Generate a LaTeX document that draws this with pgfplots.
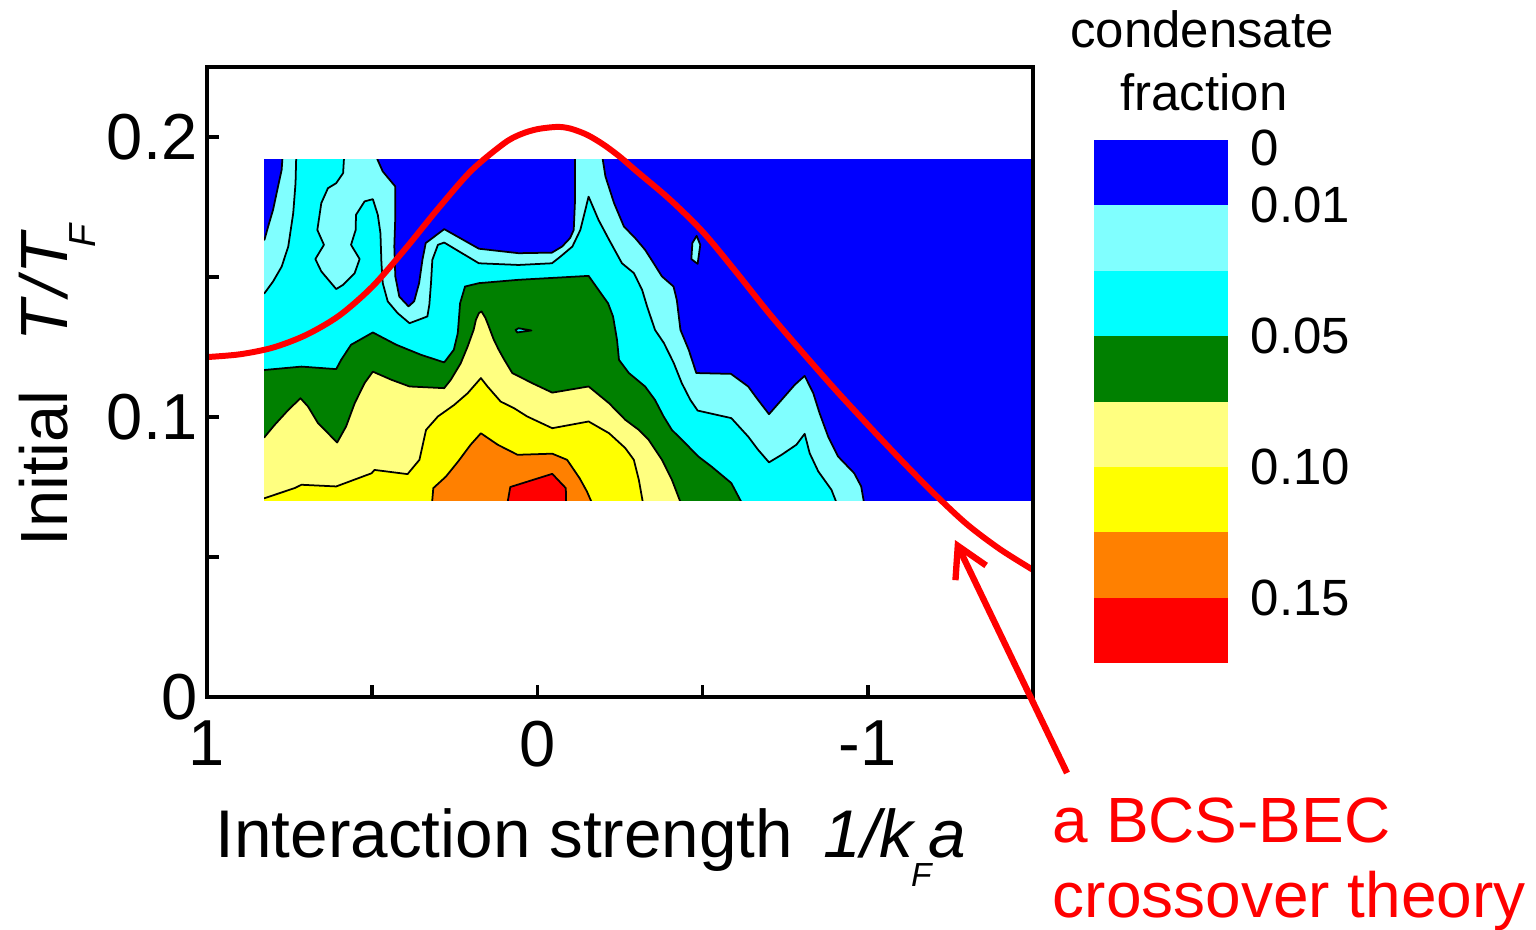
\documentclass[border=0pt]{standalone}
\usepackage{fontspec}
\setmainfont{Liberation Sans}
\usepackage{pgfplots}
\pgfplotsset{compat=1.18}
\usetikzlibrary{arrows.meta}
\definecolor{cblue}{RGB}{0,0,255}
\definecolor{clcyan}{RGB}{128,255,255}
\definecolor{ccyan}{RGB}{0,255,255}
\definecolor{cgreen}{RGB}{0,128,0}
\definecolor{clyellow}{RGB}{255,255,128}
\definecolor{cyellow}{RGB}{255,255,0}
\definecolor{corange}{RGB}{255,128,0}
\definecolor{cred}{RGB}{255,0,0}
\pgfplotsset{cont/.style={draw=black, line width=0.5pt, line join=round}}
\begin{document}
\begin{tikzpicture}
\useasboundingbox (0,0) rectangle (15.36,9.29);
\begin{axis}[
  at={(2.07cm,2.32cm)}, anchor=south west,
  width=8.26cm, height=6.30cm, scale only axis,
  x dir=reverse, xmin=-1.5, xmax=1, ymin=0, ymax=0.225,
  xtick={1,0,-1}, xticklabels={1,0,-1}, minor xtick={0.5,-0.5},
  ytick={0,0.1,0.2}, yticklabels={0,0.1,0.2}, minor ytick={0.05,0.15},
  tick align=inside, tick pos=left,
  major tick length=0.12cm, minor tick length=0.12cm,
  tick style={black, line width=1pt},
  axis line style={line width=1.4pt},
  axis on top,
  ticklabel style={font=\fontsize{18.5}{20}\selectfont, inner sep=0pt},
  yticklabel style={xshift=-0.09cm},
  xticklabel style={yshift=-0.23cm},
  xlabel={Interaction strength\hspace{0.45em}\textit{1/k}\kern-1.5pt\raisebox{-8.5pt}{\fontsize{9.5}{10}\selectfont\itshape F}\kern-1pt\textit{a}},
  xlabel style={at={(axis description cs:0.0096,-0.254)}, anchor=base west, inner sep=0pt, font=\fontsize{19.2}{22}\selectfont},
  ylabel={Initial\hspace{14pt}\textit{T\kern1pt/\kern1pt T}\kern-5pt\raisebox{-7.7pt}{\fontsize{10.7}{12}\selectfont\itshape F}},
  ylabel style={at={(axis description cs:-0.1683,0.238)}, anchor=base west, inner sep=0pt, font=\fontsize{19}{22}\selectfont},
]
% base: blue (0 - 0.01)
\addplot[fill=cblue, draw=none] coordinates {(0.826,0.0700)(-1.5,0.0700)(-1.5,0.1921)(0.826,0.1921)} -- cycle;
% > 0.01 light cyan
\addplot[cont, fill=clcyan] coordinates {
(0.845,0.1633)(0.826,0.1633)(0.815,0.1680)(0.800,0.1740)(0.785,0.1823)(0.774,0.1883)(0.769,0.197)
(0.503,0.197)(0.468,0.1877)(0.430,0.1823)(0.430,0.1716)(0.433,0.1609)(0.430,0.1502)(0.418,0.1430)
(0.390,0.1395)(0.373,0.1413)(0.358,0.1478)(0.348,0.1561)(0.338,0.1621)(0.282,0.1671)(0.177,0.1601)
(0.057,0.1585)(-0.044,0.1587)(-0.075,0.1609)(-0.099,0.1639)(-0.110,0.1668)(-0.114,0.1775)(-0.114,0.197)
(-0.191,0.197)(-0.206,0.1859)(-0.232,0.1764)(-0.262,0.1680)(-0.296,0.1639)(-0.326,0.1597)(-0.352,0.1549)
(-0.377,0.1502)(-0.412,0.1466)(-0.422,0.1418)(-0.433,0.1311)(-0.458,0.1240)(-0.481,0.1157)(-0.586,0.1154)
(-0.638,0.1109)(-0.664,0.1067)(-0.701,0.1010)(-0.739,0.1061)(-0.779,0.1115)(-0.809,0.1147)(-0.835,0.1085)
(-0.854,0.1014)(-0.880,0.0930)(-0.910,0.0859)(-0.959,0.0799)(-0.980,0.0752)(-0.995,0.065)(0.845,0.065)
} -- cycle;
\addplot[cont, fill=clcyan] coordinates {(-0.482,0.1647)(-0.493,0.1615)(-0.485,0.1547)(-0.466,0.1564)(-0.469,0.1621)} -- cycle;
% > 0.03 cyan
\addplot[cont, fill=ccyan] coordinates {
(0.729,0.197)(0.732,0.1835)(0.739,0.1728)(0.754,0.1609)(0.774,0.1537)(0.800,0.1484)(0.826,0.1442)(0.845,0.1442)
(0.845,0.065)(-0.920,0.065)
(-0.890,0.0740)(-0.850,0.0806)(-0.824,0.0871)(-0.809,0.0940)(-0.784,0.0901)(-0.739,0.0865)(-0.701,0.0838)
(-0.668,0.0883)(-0.638,0.0930)(-0.587,0.0996)(-0.485,0.1023)(-0.463,0.1061)(-0.437,0.1121)(-0.413,0.1192)
(-0.383,0.1264)(-0.356,0.1311)(-0.332,0.1395)(-0.317,0.1454)(-0.292,0.1514)(-0.256,0.1549)(-0.217,0.1633)
(-0.185,0.1704)(-0.155,0.1787)(-0.130,0.1668)(-0.106,0.1609)(-0.070,0.1573)(-0.044,0.1549)(0.057,0.1543)
(0.177,0.1549)(0.282,0.1623)(0.301,0.1615)(0.318,0.1561)(0.322,0.1478)(0.327,0.1401)(0.333,0.1359)
(0.387,0.1335)(0.423,0.1371)(0.453,0.1413)(0.468,0.1478)(0.472,0.1549)(0.475,0.1656)(0.483,0.1722)
(0.498,0.1778)(0.523,0.1770)(0.549,0.1722)(0.550,0.1668)(0.564,0.1615)(0.538,0.1564)(0.553,0.1514)
(0.588,0.1472)(0.609,0.1457)(0.654,0.1520)(0.672,0.1564)(0.646,0.1615)(0.666,0.1668)(0.654,0.1764)
(0.634,0.1817)(0.609,0.1835)(0.588,0.1871)(0.583,0.197)
} -- cycle;
% > 0.05 green
\addplot[cont, fill=cgreen] coordinates {
(0.845,0.1168)(0.826,0.1168)(0.714,0.1180)(0.609,0.1171)(0.594,0.1204)(0.564,0.1258)(0.498,0.1302)
(0.427,0.1258)(0.352,0.1222)(0.282,0.1195)(0.253,0.1240)(0.241,0.1299)(0.237,0.1359)(0.234,0.1406)
(0.219,0.1466)(0.177,0.1478)(0.057,0.1490)(-0.155,0.1504)(-0.185,0.1454)(-0.214,0.1406)(-0.229,0.1359)
(-0.241,0.1276)(-0.247,0.1204)(-0.277,0.1157)(-0.326,0.1109)(-0.356,0.1061)(-0.382,0.1002)(-0.407,0.0954)
(-0.448,0.0906)(-0.487,0.0859)(-0.527,0.0823)(-0.587,0.0764)(-0.638,0.065)(0.845,0.065)
} -- cycle;
\addplot[cont, fill=ccyan] coordinates {(0.066,0.1311)(0.061,0.1302)(0.018,0.1309)(0.057,0.1317)} -- cycle;
% > 0.075 light yellow
\addplot[cont, fill=clyellow] coordinates {
(0.845,0.0928)(0.826,0.0928)(0.795,0.0972)(0.754,0.1025)(0.717,0.1067)(0.694,0.1037)(0.664,0.0978)
(0.606,0.0909)(0.579,0.0966)(0.553,0.1049)(0.523,0.1121)(0.498,0.1162)(0.442,0.1133)(0.387,0.1109)
(0.282,0.1103)(0.262,0.1133)(0.232,0.1192)(0.211,0.1252)(0.193,0.1311)(0.186,0.1347)(0.177,0.1371)
(0.169,0.1377)(0.157,0.1353)(0.147,0.1323)(0.132,0.1276)(0.117,0.1240)(0.100,0.1204)(0.076,0.1157)
(0.016,0.1121)(-0.045,0.1087)(-0.155,0.1109)(-0.217,0.1049)(-0.266,0.0990)(-0.307,0.0954)(-0.337,0.0918)
(-0.377,0.0847)(-0.407,0.0776)(-0.448,0.065)(0.845,0.065)
} -- cycle;
% > 0.10 yellow
\addplot[cont, fill=cyellow] coordinates {
(0.845,0.0710)(0.826,0.0710)(0.735,0.0746)(0.714,0.0758)(0.609,0.0752)(0.502,0.0799)(0.493,0.0811)
(0.393,0.0796)(0.357,0.0847)(0.337,0.0954)(0.301,0.1002)(0.252,0.1043)(0.211,0.1085)(0.171,0.1139)
(0.151,0.1109)(0.111,0.1055)(0.070,0.1031)(0.031,0.1002)(-0.045,0.0960)(-0.155,0.0984)(-0.217,0.0942)
(-0.266,0.0889)(-0.292,0.0847)(-0.307,0.0776)(-0.326,0.065)(0.845,0.065)
} -- cycle;
% > 0.125 orange
\addplot[cont, fill=corange] coordinates {
(0.322,0.065)(0.315,0.0746)(0.277,0.0787)(0.240,0.0841)(0.202,0.0901)(0.171,0.0942)(0.120,0.0901)
(0.060,0.0865)(-0.045,0.0869)(-0.090,0.0847)(-0.128,0.0781)(-0.150,0.0734)(-0.181,0.065)
} -- cycle;
% > 0.15 red
\addplot[cont, fill=cred] coordinates {(0.097,0.065)(0.082,0.0750)(-0.045,0.0797)(-0.086,0.0746)(-0.088,0.065)} -- cycle;
% white margins around the measured region
\addplot[fill=white, draw=none] coordinates {(1.05,0.1921)(-1.55,0.1921)(-1.55,0.24)(1.05,0.24)} -- cycle;
\addplot[fill=white, draw=none] coordinates {(1.05,-0.01)(-1.55,-0.01)(-1.55,0.0700)(1.05,0.0700)} -- cycle;
\addplot[fill=white, draw=none] coordinates {(1.05,-0.01)(0.826,-0.01)(0.826,0.24)(1.05,0.24)} -- cycle;
% BCS-BEC crossover theory
\addplot[draw=cred, line width=1.7pt, smooth] coordinates {
(1.0,0.1214)(0.9,0.1224)(0.8,0.1248)(0.7,0.1293)(0.6,0.1362)(0.5,0.1465)(0.4,0.1600)(0.3,0.1745)
(0.2,0.1880)(0.1,0.1978)(0.05,0.2010)(0.0,0.2028)(-0.06,0.2036)(-0.1,0.2030)(-0.15,0.2008)(-0.2,0.1973)
(-0.25,0.1929)(-0.3,0.1878)(-0.4,0.1778)(-0.5,0.1662)(-0.6,0.1520)(-0.7,0.1372)(-0.8,0.1234)(-0.9,0.1100)
(-1.0,0.0972)(-1.1,0.0847)(-1.2,0.0727)(-1.3,0.0617)(-1.4,0.0528)(-1.5,0.0454)
};
\end{axis}
% colour bar
\begin{axis}[
  at={(10.94cm,2.66cm)}, anchor=south west,
  width=1.34cm, height=5.23cm, scale only axis,
  xmin=0, xmax=1, ymin=0, ymax=8,
  axis line style={draw=none},
  xtick=\empty,
  ytick={1,3,5,7,7.88}, yticklabels={0.15,0.10,0.05,0.01,0},
  yticklabel pos=right, major tick length=0pt, ytick style={draw=none},
  yticklabel style={font=\fontsize{14.5}{16}\selectfont, inner sep=0pt, xshift=0.22cm},
]
\addplot[fill=cred, draw=none] coordinates {(0,0)(1,0)(1,1)(0,1)} -- cycle;
\addplot[fill=corange, draw=none] coordinates {(0,1)(1,1)(1,2)(0,2)} -- cycle;
\addplot[fill=cyellow, draw=none] coordinates {(0,2)(1,2)(1,3)(0,3)} -- cycle;
\addplot[fill=clyellow, draw=none] coordinates {(0,3)(1,3)(1,4)(0,4)} -- cycle;
\addplot[fill=cgreen, draw=none] coordinates {(0,4)(1,4)(1,5)(0,5)} -- cycle;
\addplot[fill=ccyan, draw=none] coordinates {(0,5)(1,5)(1,6)(0,6)} -- cycle;
\addplot[fill=clcyan, draw=none] coordinates {(0,6)(1,6)(1,7)(0,7)} -- cycle;
\addplot[fill=cblue, draw=none] coordinates {(0,7)(1,7)(1,8)(0,8)} -- cycle;
\end{axis}
\node[anchor=base, inner sep=0pt, font=\fontsize{14.5}{16}\selectfont] at (12.02,8.81) {condensate};
\node[anchor=base, inner sep=0pt, font=\fontsize{14.5}{16}\selectfont] at (12.04,8.18) {fraction};
% annotation
\draw[cred, line width=1.8pt, -{Straight Barb[length=0.3cm,width=0.34cm]}] (10.67,1.56) -- (9.55,3.89);
\node[anchor=base west, inner sep=0pt, text=cred, font=\fontsize{18.2}{20}\selectfont] at (10.52,0.87) {a BCS-BEC};
\node[anchor=base west, inner sep=0pt, text=cred, font=\fontsize{18.2}{20}\selectfont] at (10.52,0.12) {crossover theory};
\end{tikzpicture}
\end{document}
